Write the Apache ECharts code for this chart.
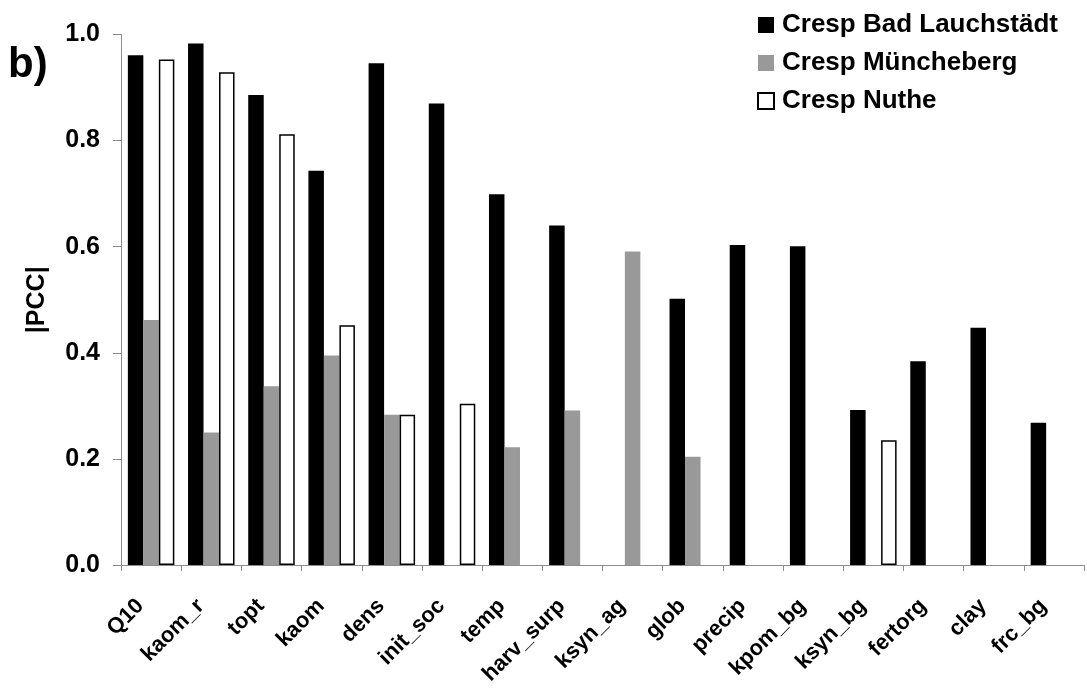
<!DOCTYPE html>
<html>
<head>
<meta charset="utf-8">
<script src="https://cdn.jsdelivr.net/npm/echarts@6/dist/echarts.min.js"></script>
<style>
  html, body { margin: 0; padding: 0; background: #fff; }
  #chart { width: 1087px; height: 689px; }
</style>
</head>
<body>
<div id="chart"></div>
<script>
// Model parameters on the category axis
const categories = ['Q10', 'kaom_r', 'topt', 'kaom', 'dens', 'init_soc', 'temp', 'harv_surp',
  'ksyn_ag', 'glob', 'precip', 'kpom_bg', 'ksyn_bg', 'fertorg', 'clay', 'frc_bg'];

// |PCC| per site (null = no bar)
const badLauchstaedt = [0.961, 0.983, 0.886, 0.743, 0.946, 0.870, 0.699, 0.640,
  null, 0.502, 0.603, 0.601, 0.292, 0.384, 0.447, 0.268];
const muencheberg = [0.462, 0.250, 0.337, 0.395, 0.283, null, 0.222, 0.291,
  0.591, 0.204, null, null, null, null, null, null];
const nuthe = [0.953, 0.929, 0.812, 0.452, 0.283, 0.304, null, null,
  null, null, null, null, 0.235, null, null, null];

const seriesNames = ['Cresp Bad Lauchstädt', 'Cresp Müncheberg', 'Cresp Nuthe'];
const yTicks = { min: 0, max: 1, interval: 0.2 };

const FONT = 'Liberation Sans, Arial, sans-serif';
const AXIS_GREY = '#8c8c8c';

const chart = echarts.init(document.getElementById('chart'), null, { renderer: 'canvas' });

chart.setOption({
  animation: false,
  backgroundColor: '#fff',
  textStyle: { fontFamily: FONT },
  title: {
    text: 'b)',
    left: 8,
    top: 44,
    padding: 0,
    textStyle: { fontFamily: FONT, fontSize: 42, fontWeight: 'bold', color: '#000' }
  },
  legend: {
    orient: 'vertical',
    left: 757,
    top: 12,
    padding: 0,
    itemWidth: 16,
    itemHeight: 16,
    itemGap: 12,
    icon: 'rect',
    textStyle: { fontFamily: FONT, fontSize: 26, fontWeight: 'bold', color: '#000', lineHeight: 26, padding: [0, 0, 0, 3] },
    data: seriesNames
  },
  grid: {
    left: 121,
    right: 3,
    top: 34.5,
    bottom: 124,
    containLabel: false,
    outerBoundsMode: 'none'
  },
  xAxis: {
    type: 'category',
    data: categories,
    boundaryGap: true,
    axisLine: { show: true, lineStyle: { color: AXIS_GREY, width: 1 } },
    axisTick: { show: true, alignWithLabel: false, length: 6, lineStyle: { color: AXIS_GREY } },
    axisLabel: {
      interval: 0,
      rotate: 45,
      margin: 27,
      padding: [0, 15, 0, 0],
      fontFamily: FONT,
      fontSize: 22,
      fontWeight: 'bold',
      color: '#000'
    },
    splitLine: { show: false }
  },
  yAxis: {
    type: 'value',
    min: yTicks.min,
    max: yTicks.max,
    interval: yTicks.interval,
    name: '|PCC|',
    nameLocation: 'middle',
    nameRotate: 90,
    nameGap: 71,
    nameTextStyle: { fontFamily: FONT, fontSize: 25, fontWeight: 'bold', color: '#000' },
    axisLine: { show: true, lineStyle: { color: AXIS_GREY, width: 1 } },
    axisTick: { show: true, length: 8, lineStyle: { color: AXIS_GREY } },
    axisLabel: {
      margin: 21,
      fontFamily: FONT,
      fontSize: 25,
      fontWeight: 'bold',
      color: '#000',
      formatter: v => v.toFixed(1)
    },
    splitLine: { show: false }
  },
  series: [
    {
      name: seriesNames[0],
      type: 'bar',
      data: badLauchstaedt,
      barWidth: 15.5,
      barGap: '0%',
      itemStyle: { color: '#000' }
    },
    {
      name: seriesNames[1],
      type: 'bar',
      data: muencheberg,
      barWidth: 15.5,
      barGap: '0%',
      itemStyle: { color: '#999' }
    },
    {
      name: seriesNames[2],
      type: 'bar',
      data: nuthe,
      barWidth: 15.5,
      barGap: '0%',
      itemStyle: { color: '#fff', borderColor: '#000', borderWidth: 1.5 }
    }
  ]
});
</script>
</body>
</html>
